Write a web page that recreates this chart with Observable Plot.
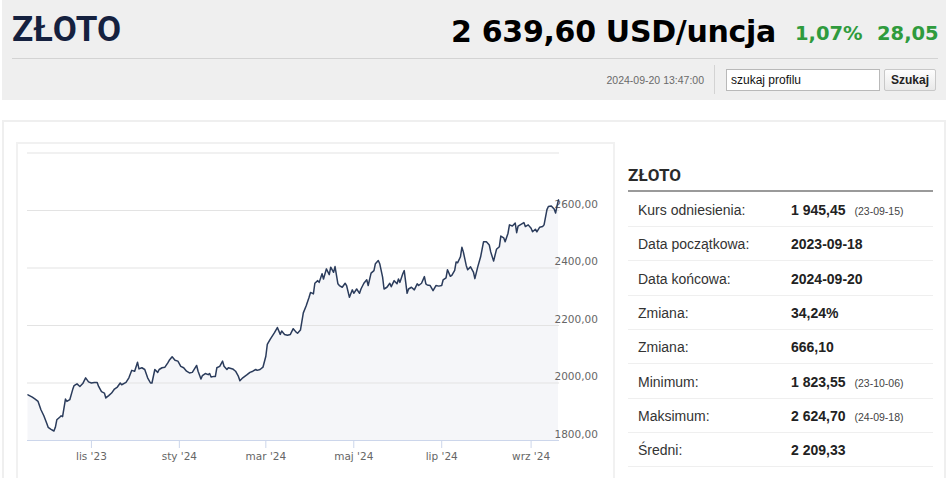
<!DOCTYPE html>
<html><head><meta charset="utf-8">
<script src="https://cdn.jsdelivr.net/npm/d3@7"></script>
<script src="https://cdn.jsdelivr.net/npm/@observablehq/plot@0.6"></script>
<style>
body{margin:0;width:948px;height:478px;overflow:hidden;background:#fff;font-family:"Liberation Sans",Arial,sans-serif;position:relative}
.a{position:absolute;white-space:nowrap}
#hdr{left:2px;top:0;width:944px;height:100px;background:#efefef}
#title{left:12px;top:12px;font:700 35px/35px Roboto,sans-serif;color:#15213f}
#price{right:172px;top:14px;font:700 30px/36px "DejaVu Sans",sans-serif;letter-spacing:-0.3px;color:#000}
#chg1{left:795px;top:22px;font:700 19.5px/24px "DejaVu Sans",sans-serif;color:#2f9b3d}
#chg2{left:877px;top:22px;font:700 19.5px/24px "DejaVu Sans",sans-serif;color:#2f9b3d}
#hline{left:12px;top:58px;width:926px;height:1px;background:#d3d3d3}
#ts{right:244px;top:73px;font:10.5px/14px "Liberation Sans",sans-serif;color:#6a6a6a}
#sep{left:714px;top:65px;width:1px;height:29px;background:#d3d3d3}
#inp{left:726px;top:69px;height:20px;background:#fff;border:1px solid #b9b9b9;font:12px/20px "Liberation Sans",sans-serif;color:#111;padding-left:4px;box-sizing:content-box;width:148px}
#btn{left:884px;top:69px;width:50px;height:20px;border:1px solid #c8c8c8;border-radius:2px;background:linear-gradient(#fdfdfd,#e9e9e9);font:700 12px/20px "Liberation Sans",sans-serif;color:#222;text-align:center}
#panel{left:2px;top:120px;width:940px;height:400px;border:2px solid #efefef}
#cbox{left:16px;top:142px;width:595px;height:400px;border:2px solid #f1f1f1}
#chart{left:17px;top:143px}
#thead{left:628px;top:163px;font:700 17px/24px Roboto,sans-serif;color:#2a2a2a}
#tline{left:628px;top:190px;width:305px;height:2px;background:#9a9a9a}
.row{position:absolute;left:628px;width:305px;height:33px;border-bottom:1.5px solid #efefef;font:14px/34px "Liberation Sans",sans-serif;color:#333}
.row .l{position:absolute;left:10px}
.row .v{position:absolute;left:163px;font-weight:700;color:#222}
.row .n{font-weight:400;font-size:10.5px;color:#444;margin-left:9px}
</style></head><body>
<div class="a" id="hdr"></div>
<div class="a" id="title">ZŁOTO</div>
<div class="a" id="price">2 639,60 USD/uncja</div>
<div class="a" id="chg1">1,07%</div>
<div class="a" id="chg2">28,05</div>
<div class="a" id="hline"></div>
<div class="a" id="ts">2024-09-20 13:47:00</div>
<div class="a" id="sep"></div>
<div class="a" id="inp">szukaj profilu</div>
<div class="a" id="btn">Szukaj</div>
<div class="a" id="panel"></div>
<div class="a" id="cbox"></div>
<div class="a" id="chart"></div>
<div class="a" id="thead">ZŁOTO</div>
<div class="a" id="tline"></div>
<div id="table"></div>
<script>
const dates = [
"2023-09-18","2023-09-21","2023-09-23","2023-09-25","2023-09-27","2023-09-29","2023-10-01","2023-10-02","2023-10-04","2023-10-06",
"2023-10-07","2023-10-08","2023-10-10","2023-10-11","2023-10-12","2023-10-14","2023-10-15","2023-10-17","2023-10-19","2023-10-20",
"2023-10-22","2023-10-24","2023-10-26","2023-10-28","2023-10-30","2023-11-01","2023-11-03","2023-11-05","2023-11-06","2023-11-08",
"2023-11-10","2023-11-11","2023-11-13","2023-11-15","2023-11-17","2023-11-19","2023-11-21","2023-11-22","2023-11-25","2023-11-27",
"2023-11-29","2023-12-01","2023-12-03","2023-12-04","2023-12-06","2023-12-08","2023-12-10","2023-12-12","2023-12-13","2023-12-15",
"2023-12-17","2023-12-18","2023-12-20","2023-12-22","2023-12-24","2023-12-25","2023-12-27","2023-12-29","2023-12-31","2024-01-02",
"2024-01-04","2024-01-06","2024-01-08","2024-01-10","2024-01-13","2024-01-14","2024-01-16","2024-01-17","2024-01-19","2024-01-21",
"2024-01-22","2024-01-23","2024-01-25","2024-01-26","2024-01-27","2024-01-29","2024-01-31","2024-02-01","2024-02-03","2024-02-04",
"2024-02-07","2024-02-09","2024-02-11","2024-02-12","2024-02-14","2024-02-17","2024-02-19","2024-02-21","2024-02-23","2024-02-24",
"2024-02-26","2024-02-28","2024-03-01","2024-03-02","2024-03-04","2024-03-07","2024-03-09","2024-03-11","2024-03-12","2024-03-14",
"2024-03-16","2024-03-18","2024-03-20","2024-03-22","2024-03-23","2024-03-25","2024-03-27","2024-03-29","2024-03-31","2024-04-01",
"2024-04-03","2024-04-04","2024-04-06","2024-04-07","2024-04-09","2024-04-10","2024-04-12","2024-04-14","2024-04-15","2024-04-17",
"2024-04-18","2024-04-20","2024-04-21","2024-04-23","2024-04-25","2024-04-26","2024-04-28","2024-04-30","2024-05-01","2024-05-03",
"2024-05-05","2024-05-06","2024-05-08","2024-05-10","2024-05-11","2024-05-13","2024-05-15","2024-05-16","2024-05-18","2024-05-19",
"2024-05-21","2024-05-22","2024-05-24","2024-05-26","2024-05-27","2024-05-29","2024-05-31","2024-06-01","2024-06-02","2024-06-04",
"2024-06-05","2024-06-07","2024-06-08","2024-06-10","2024-06-12","2024-06-14","2024-06-15","2024-06-17","2024-06-19","2024-06-20",
"2024-06-21","2024-06-23","2024-06-25","2024-06-27","2024-06-29","2024-07-01","2024-07-02","2024-07-04","2024-07-05","2024-07-07",
"2024-07-08","2024-07-10","2024-07-11","2024-07-12","2024-07-14","2024-07-15","2024-07-16","2024-07-18","2024-07-19","2024-07-21",
"2024-07-23","2024-07-24","2024-07-26","2024-07-28","2024-07-29","2024-07-30","2024-08-01","2024-08-03","2024-08-04","2024-08-06",
"2024-08-08","2024-08-10","2024-08-11","2024-08-13","2024-08-14","2024-08-16","2024-08-17","2024-08-19","2024-08-21","2024-08-22",
"2024-08-23","2024-08-25","2024-08-27","2024-08-28","2024-08-30","2024-09-01","2024-09-02","2024-09-04","2024-09-05","2024-09-07",
"2024-09-09","2024-09-10","2024-09-12","2024-09-13","2024-09-15","2024-09-17","2024-09-18","2024-09-19","2024-09-20"
];
const prices = [
1959,1951,1944,1936,1907,1886,1860,1846,1839,1833,
1846,1872,1881,1886,1883,1944,1936,1942,1977,1991,
1997,1988,1998,2018,2004,2000,2002,2002,1988,1970,
1965,1948,1956,1965,1979,1986,2000,1994,2002,2018,
2044,2041,2072,2049,2053,2047,2018,2000,2000,2047,
2037,2047,2053,2055,2070,2079,2091,2079,2076,2058,
2053,2041,2035,2037,2061,2041,2014,2026,2033,2029,
2033,2021,2023,2023,2053,2058,2076,2058,2047,2053,
2049,2041,2023,2008,2018,2029,2037,2041,2047,2044,
2047,2055,2093,2134,2152,2175,2193,2169,2181,2169,
2166,2169,2189,2177,2173,2184,2244,2269,2298,2315,
2310,2347,2356,2350,2380,2362,2397,2377,2403,2385,
2405,2345,2339,2333,2347,2339,2298,2324,2312,2327,
2312,2327,2347,2359,2339,2382,2391,2415,2426,2415,
2368,2327,2333,2347,2335,2356,2345,2362,2350,2380,
2391,2312,2327,2333,2324,2345,2339,2347,2370,2345,
2341,2339,2321,2339,2337,2339,2359,2366,2394,2371,
2374,2392,2421,2418,2439,2472,2456,2409,2394,2404,
2386,2363,2404,2439,2465,2491,2491,2480,2456,2424,
2465,2474,2511,2505,2491,2521,2550,2546,2556,2523,
2546,2552,2558,2544,2550,2538,2526,2535,2526,2542,
2544,2550,2603,2614,2616,2605,2591,2616,2637
];
const tickDates = ["2023-11-01","2024-01-01","2024-03-01","2024-05-01","2024-07-01","2024-09-01"];
const tickLabels = ["lis '23","sty '24","mar '24","maj '24","lip '24","wrz '24"];
const yTickValues = [1800,2000,2200,2400,2600];
const yGridValues = [1800,2000,2200,2400,2600,2800];

const statLabels = ["Kurs odniesienia:","Data początkowa:","Data końcowa:","Zmiana:","Zmiana:","Minimum:","Maksimum:","Średni:"];
const statValues = ["1 945,45","2023-09-18","2024-09-20","34,24%","666,10","1 823,55","2 624,70","2 209,33"];
const statNotes = ["(23-09-15)","","","","","(23-10-06)","(24-09-18)",""];

const data = dates.map((d, i) => ({date: new Date(d), value: prices[i]}));
const ticks = tickDates.map(d => new Date(d));
const labelOf = new Map(ticks.map((t, i) => [+t, tickLabels[i]]));

const chart = Plot.plot({
  width: 595, height: 335,
  marginLeft: 10, marginRight: 53, marginTop: 9.5, marginBottom: 38,
  x: {type: "utc", domain: [new Date("2023-09-17T16:00Z"), new Date("2024-09-20T17:00Z")]},
  y: {domain: [1800, 2800]},
  style: {fontFamily: "DejaVu Sans", fontSize: "10.5px", background: "transparent", overflow: "visible"},
  marks: [
    Plot.areaY(data, {x: "date", y1: 1800, y2: "value", fill: "#f5f6f9"}),
    Plot.gridY(yGridValues, {stroke: "#e3e3e3", strokeOpacity: 1}),
    Plot.axisY(yTickValues, {anchor: "right", tickSize: 0, tickPadding: -5, textAnchor: "start", dy: -6, fill: "#666", tickFormat: d => d.toFixed(2).replace(".", ","), label: null}),
    Plot.lineY(data, {x: "date", y: "value", stroke: "#2b3c5c", strokeWidth: 1.5}),
    Plot.ruleY([1800], {stroke: "#ccd6eb"}),
    Plot.axisX(ticks, {tickSize: 8, tickPadding: 4, stroke: "#ccd6eb", fill: "#666", tickFormat: d => labelOf.get(+d), label: null})
  ]
});
document.getElementById("chart").appendChild(chart);

const table = document.getElementById("table");
statLabels.forEach((lab, i) => {
  const r = document.createElement("div");
  r.className = "row";
  r.style.top = (193 + i * 34.35) + "px";
  r.innerHTML = `<span class="l">${lab}</span><span class="v">${statValues[i]}${statNotes[i] ? `<span class="n">${statNotes[i]}</span>` : ""}</span>`;
  table.appendChild(r);
});
</script>
</body></html>
